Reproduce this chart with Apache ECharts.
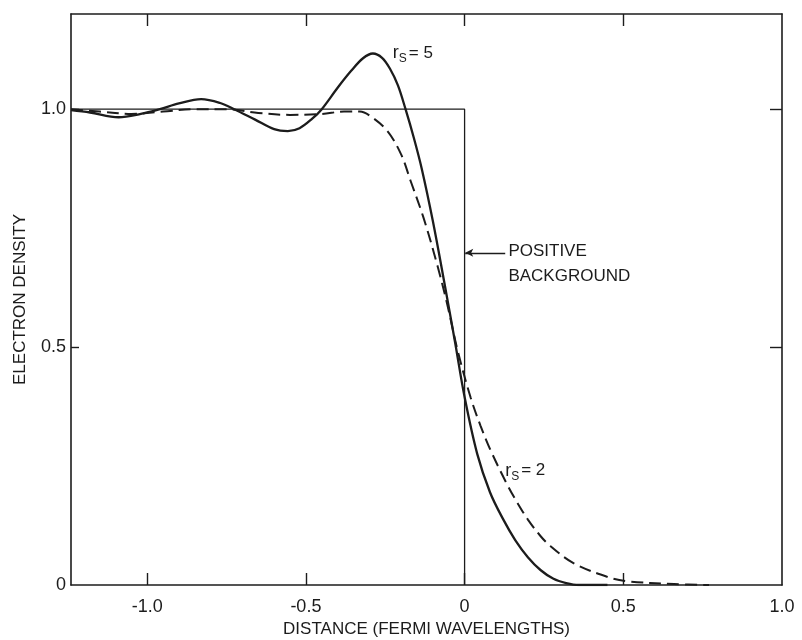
<!DOCTYPE html>
<html><head><meta charset="utf-8">
<script src="https://cdn.jsdelivr.net/npm/echarts@6/dist/echarts.min.js"></script>
<style>html,body{margin:0;padding:0;background:#fff}#c{width:802px;height:640px}</style>
</head><body><div id="c"></div>
<script>
// r_s = 5 (solid)
const rs5X = [-1.24, -1.18, -1.09, -1.02, -0.96, -0.90, -0.83, -0.77, -0.726, -0.66, -0.60, -0.557, -0.52, -0.48, -0.45, -0.40, -0.358, -0.32, -0.289, -0.26, -0.235, -0.21, -0.186, -0.16, -0.135, -0.10, -0.065, -0.03, 0.0, 0.04, 0.08, 0.12, 0.16, 0.20, 0.24, 0.28, 0.32, 0.36, 0.45];
const rs5Y = [0.998, 0.993, 0.983, 0.99, 1.0, 1.012, 1.021, 1.013, 1.0, 0.978, 0.958, 0.954, 0.96, 0.98, 1.0, 1.045, 1.08, 1.107, 1.117, 1.108, 1.085, 1.05, 1.0, 0.94, 0.875, 0.765, 0.64, 0.51, 0.395, 0.275, 0.195, 0.14, 0.094, 0.058, 0.031, 0.013, 0.004, 0.0, 0.0];
// r_s = 2 (dashed)
const rs2X = [-1.24, -1.15, -1.05, -0.95, -0.85, -0.75, -0.65, -0.55, -0.45, -0.38, -0.33, -0.296, -0.243, -0.20, -0.17, -0.129, -0.085, -0.054, -0.022, 0.019, 0.05, 0.082, 0.135, 0.167, 0.20, 0.239, 0.27, 0.343, 0.45, 0.51, 0.66, 0.77];
const rs2Y = [1.0, 0.995, 0.99, 0.995, 1.0, 1.0, 0.992, 0.988, 0.99, 0.995, 0.995, 0.985, 0.954, 0.905, 0.849, 0.771, 0.67, 0.588, 0.493, 0.394, 0.335, 0.283, 0.21, 0.172, 0.137, 0.103, 0.082, 0.046, 0.017, 0.008, 0.002, 0.0];
// positive background (step)
const bgX = [-1.24, 0, 0];
const bgY = [1, 1, 0];
// axes
const xTickValues = [-1.0, -0.5, 0, 0.5, 1.0];
const xTickLabels = ['-1.0', '-0.5', '0', '0.5', '1.0'];
const yTickValues = [0, 0.5, 1.0];
const yTickLabels = ['0', '0.5', '1.0'];
const xTitle = 'DISTANCE (FERMI WAVELENGTHS)';
const yTitle = 'ELECTRON DENSITY';
// annotations (data coordinates)
const bgLabel = ['POSITIVE', 'BACKGROUND'];
const bgLabelAt = [[0.138, 0.702], [0.138, 0.648]];
const arrowFrom = [0.128, 0.698];
const arrowTo = [0.002, 0.698];
const rs5LabelAt = [-0.226, 1.118];
const rs2LabelAt = [0.128, 0.240];

const INK = '#1c1c1c';
const FONT = 'Liberation Sans';
const zip = (a, b) => a.map((v, i) => [v, b[i]]);
const fmtX = v => { const i = xTickValues.findIndex(t => Math.abs(t - v) < 1e-9); return i >= 0 ? xTickLabels[i] : ''; };
const fmtY = v => { const i = yTickValues.findIndex(t => Math.abs(t - v) < 1e-9); return i >= 0 ? yTickLabels[i] : ''; };

const chart = echarts.init(document.getElementById('c'), null, {renderer: 'canvas'});
const axisLine = {show: true, onZero: false, lineStyle: {color: INK, width: 1.6}};
const option = {
  backgroundColor: '#fff',
  animation: false,
  grid: {left: 71, right: 20, top: 14, bottom: 55, containLabel: false, outerBoundsMode: 'none'},
  xAxis: [
    {type: 'value', position: 'bottom', min: -1.24, max: 1.0,
     axisLine: axisLine, splitLine: {show: false},
     axisTick: {show: true, inside: true, length: 12, customValues: [-1.0, -0.5, 0, 0.5], lineStyle: {color: INK, width: 1.4}},
     axisLabel: {show: true, customValues: xTickValues, formatter: fmtX, margin: 13, color: INK, fontFamily: FONT, fontSize: 18},
     name: xTitle, nameLocation: 'middle', nameGap: 34,
     nameTextStyle: {color: INK, fontFamily: FONT, fontSize: 17}},
    {type: 'value', position: 'top', min: -1.24, max: 1.0,
     axisLine: axisLine, splitLine: {show: false},
     axisTick: {show: true, inside: true, length: 12, customValues: [-1.0, -0.5, 0, 0.5], lineStyle: {color: INK, width: 1.4}},
     axisLabel: {show: false}}
  ],
  yAxis: [
    {type: 'value', position: 'left', min: 0, max: 1.2,
     axisLine: axisLine, splitLine: {show: false},
     axisTick: {show: true, inside: true, length: 8, customValues: [0.5, 1.0], lineStyle: {color: INK, width: 1.4}},
     axisLabel: {show: true, customValues: yTickValues, formatter: fmtY, margin: 5, color: INK, fontFamily: FONT, fontSize: 18},
     name: yTitle, nameLocation: 'middle', nameGap: 42, nameRotate: 90,
     nameTextStyle: {color: INK, fontFamily: FONT, fontSize: 17}},
    {type: 'value', position: 'right', min: 0, max: 1.2,
     axisLine: axisLine, splitLine: {show: false},
     axisTick: {show: true, inside: true, length: 12, customValues: [0.5, 1.0], lineStyle: {color: INK, width: 1.4}},
     axisLabel: {show: false}}
  ],
  series: [
    {name: 'background', type: 'line', data: zip(bgX, bgY), showSymbol: false, silent: true,
     lineStyle: {color: INK, width: 1.3},
     markLine: {silent: true, symbol: ['none', 'arrow'], symbolSize: [6, 8], label: {show: false},
       lineStyle: {color: INK, width: 1.3, type: 'solid'},
       data: [[{coord: arrowFrom}, {coord: arrowTo}]]}},
    {name: 'rs2', type: 'line', data: zip(rs2X, rs2Y), showSymbol: false, smooth: 0.35, silent: true,
     lineStyle: {color: INK, width: 2, type: [12, 6]}},
    {name: 'rs5', type: 'line', data: zip(rs5X, rs5Y), showSymbol: false, smooth: 0.35, silent: true,
     lineStyle: {color: INK, width: 2.3}}
  ]
};
chart.setOption(option);

function txt(x, y, text, size, extra) {
  return Object.assign({type: 'text', x: x, y: y, silent: true,
    style: {text: text, fill: INK, font: size + 'px "' + FONT + '"', textVerticalAlign: 'middle', textAlign: 'left'}}, extra || {});
}
const p = c => chart.convertToPixel({xAxisIndex: 0, yAxisIndex: 0}, c);
const g = [];
bgLabel.forEach((t, i) => { const q = p(bgLabelAt[i]); g.push(txt(q[0], q[1], t, 17)); });
function rsLabel(at, val) {
  const q = p(at);
  g.push(txt(q[0], q[1], 'r', 18));
  g.push(txt(q[0] + 6, q[1] + 6, 'S', 12));
  g.push(txt(q[0] + 16, q[1], '= ' + val, 17));
}
rsLabel(rs5LabelAt, '5');
rsLabel(rs2LabelAt, '2');
chart.setOption({graphic: g});
</script></body></html>
